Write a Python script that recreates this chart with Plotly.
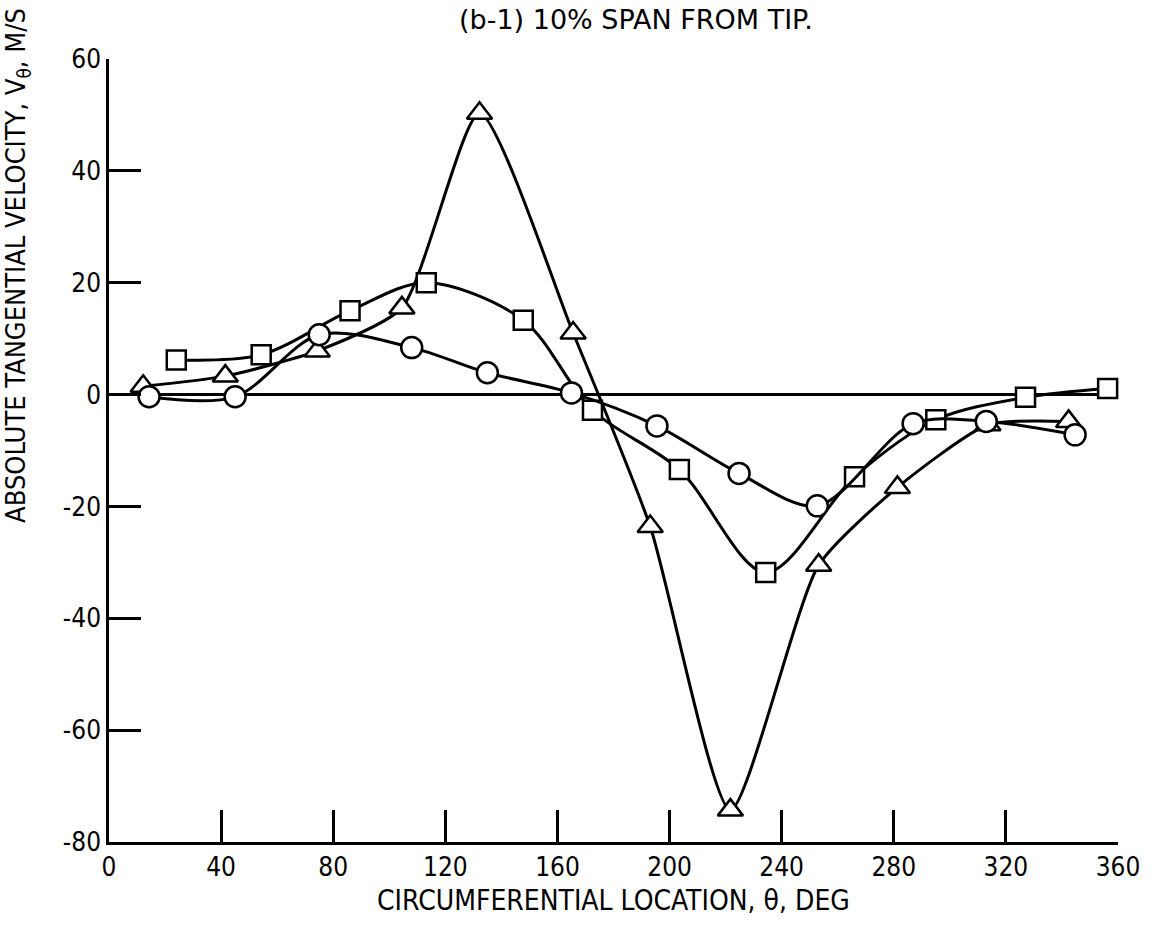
import plotly.graph_objects as go

# ---- data ----
circle_theta = [14.3, 45, 75, 108, 135, 165, 195.5, 224.8, 252.7, 286.9, 313, 344.7]
circle_v = [-0.4, -0.4, 10.7, 8.4, 3.9, 0.3, -5.6, -14.1, -19.9, -5.2, -4.8, -7.2]

square_theta = [24, 54.3, 86, 113.2, 147.8, 172.5, 203.5, 234.3, 266, 295, 327, 356.3]
square_v = [6.2, 7.1, 15, 20, 13.3, -2.8, -13.4, -31.8, -14.7, -4.5, -0.5, 1.1]

triangle_theta = [12.2, 41.5, 74.3, 104.5, 132.2, 165.6, 193.1, 221.7, 253.2, 281.3, 313.6, 342.4]
triangle_v = [1.5, 3.3, 7.8, 15.5, 50.3, 11.0, -23.6, -74.3, -30.5, -16.6, -5.4, -4.8]

x_ticks = [0, 40, 80, 120, 160, 200, 240, 280, 320, 360]
x_tick_labels = ["0", "40", "80", "120", "160", "200", "240", "280", "320", "360"]
y_ticks = [-80, -60, -40, -20, 0, 20, 40, 60]
y_tick_labels = ["-80", "-60", "-40", "-20", "0", "20", "40", "60"]

FONT = "DejaVu Sans Condensed, Liberation Sans Narrow, sans-serif"
TITLE_FONT = "DejaVu Sans, sans-serif"

fig = go.Figure()

def add_series(x, y, symbol, size, smoothing):
    fig.add_trace(go.Scatter(
        x=x, y=y, mode="lines+markers",
        line=dict(color="black", width=3, shape="spline", smoothing=smoothing),
        marker=dict(symbol=symbol, size=size, color="white",
                    line=dict(color="black", width=2.5)),
        showlegend=False, cliponaxis=False,
    ))

add_series(triangle_theta, triangle_v, "triangle-up", 22, 0.6)
add_series(square_theta, square_v, "square", 19, 0.9)
add_series(circle_theta, circle_v, "circle", 21, 0.9)

axis_common = dict(
    showgrid=False, showline=True, linecolor="black", linewidth=2.5,
    ticks="inside", ticklen=32, tickwidth=2.5, tickcolor="black",
    tickfont=dict(family=FONT, size=26, color="black"),
    mirror=False,
)

fig.update_xaxes(range=[0, 360], tickvals=x_ticks, ticktext=x_tick_labels,
                 zeroline=False, **axis_common)
fig.update_yaxes(range=[-80, 60], tickvals=y_ticks, ticktext=y_tick_labels,
                 zeroline=True, zerolinecolor="black", zerolinewidth=2.5,
                 **axis_common)

fig.update_layout(
    width=1152, height=926,
    margin=dict(l=109, r=30, t=59, b=84),
    plot_bgcolor="white", paper_bgcolor="white",
    font=dict(family=FONT, color="black"),
    annotations=[
        dict(text="(b-1) 10% SPAN FROM TIP.", xref="paper", yref="paper",
             x=0.522, y=1.051, showarrow=False, xanchor="center", yanchor="middle",
             font=dict(family=TITLE_FONT, size=27, color="black")),
        dict(text="CIRCUMFERENTIAL LOCATION, θ, DEG", xref="paper", yref="paper",
             x=0.5, y=-0.075, showarrow=False, xanchor="center", yanchor="middle",
             font=dict(family=FONT, size=28, color="black")),
        dict(text="ABSOLUTE TANGENTIAL VELOCITY, V<sub>θ</sub>, M/S", xref="paper", yref="paper",
             x=-0.09, y=0.736, showarrow=False, xanchor="center", yanchor="middle",
             textangle=-90,
             font=dict(family=FONT, size=27, color="black")),
    ],
)

fig.write_html("out.html")
